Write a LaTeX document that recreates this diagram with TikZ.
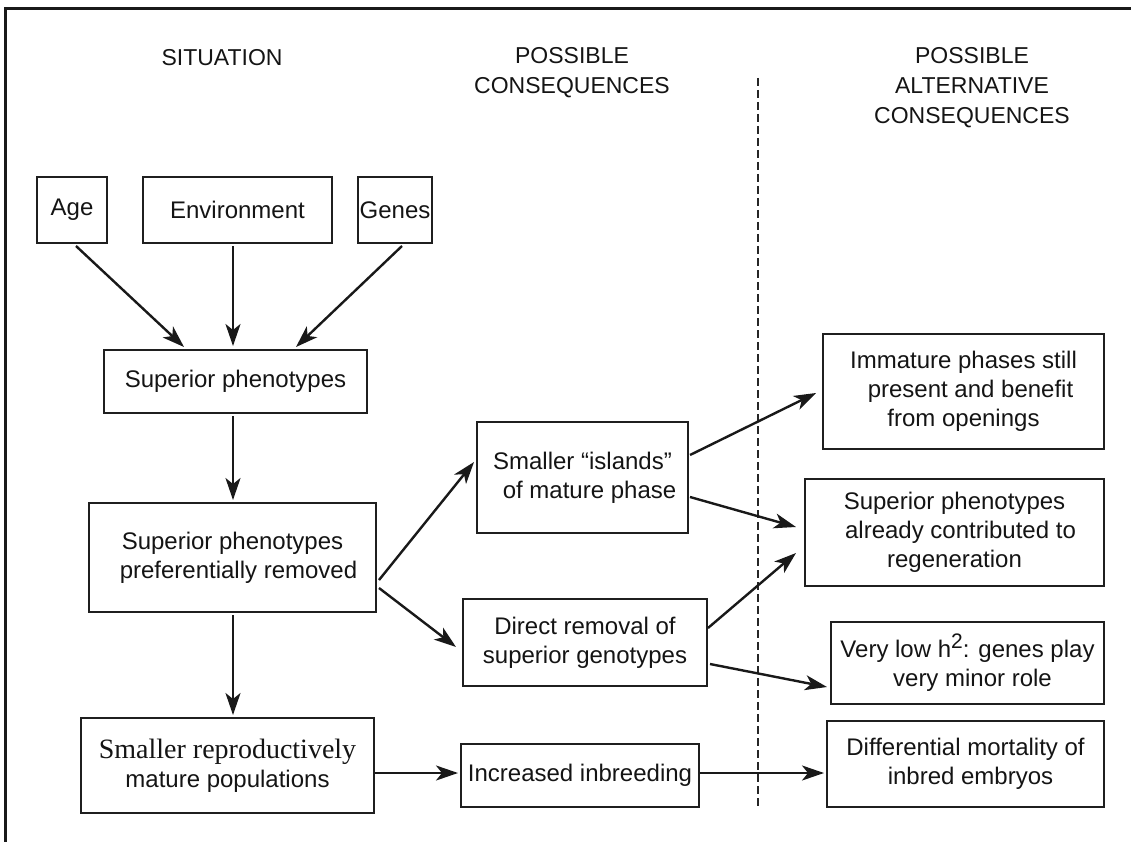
\documentclass[tikz,border=0pt]{standalone}
\usepackage{fontspec}
\setmainfont{Liberation Sans}
\newfontfamily\timesf{Liberation Serif}
\usetikzlibrary{arrows.meta}
\begin{document}
\begin{tikzpicture}[x=1pt,y=-1pt,
  box/.style={draw=black!88, line width=2pt, align=center, inner sep=0pt,
    font=\fontsize{24}{29}\selectfont, text=black!92},
  hdr/.style={align=center, inner sep=0pt, font=\fontsize{23}{30}\selectfont, text=black!92},
  arr/.style={line width=2.4pt, draw=black!90,
    -{Stealth[length=22pt,width=15pt,inset=6pt]}},
  frame/.style={line width=3pt, draw=black!90},
  divider/.style={line width=2.2pt, draw=black!85, dash pattern=on 8pt off 4pt}]
\useasboundingbox (0,0) rectangle (1131,842);
% frame
\coordinate (fbl) at (5,842);
\coordinate (ftl) at (5,9);
\coordinate (ftr) at (1131,9);
\draw[frame] (fbl) -- (ftl) -- (ftr);
% headers
\node[hdr] (h1) at (222,58) {SITUATION};
\node[hdr] (h2) at (572,73) {POSSIBLE\\CONSEQUENCES};
\node[hdr] (h3) at (972,88) {POSSIBLE\\ALTERNATIVE\\CONSEQUENCES};
% divider
\coordinate (dtop) at (758,78);
\coordinate (dbot) at (758,807);
\draw[divider] (dtop) -- (dbot);
% boxes
\node[box, minimum width=70, minimum height=66] (age) at (72,210) {Age};
\node[box, minimum width=189, minimum height=66] (env) at (237.5,210) {Environment};
\node[box, minimum width=74, minimum height=66] (genes) at (395,210) {Genes};
\node[box, minimum width=263, minimum height=63] (sp) at (235.5,381.5) {Superior phenotypes};
\node[box, minimum width=287, minimum height=109] (sppr) at (232.5,557.5) {Superior phenotypes\\\hspace*{12pt}preferentially removed};
\node[box, minimum width=293, minimum height=95] (ssr) at (227.5,765.5) {{\timesf\fontsize{28}{29}\selectfont Smaller reproductively}\\mature populations};
\node[box, minimum width=211, minimum height=111] (isl) at (582.5,477.5) {Smaller “islands”\\\hspace*{14pt}of mature phase};
\node[box, minimum width=244, minimum height=87] (dir) at (585,642.5) {Direct removal of\\superior genotypes};
\node[box, minimum width=238, minimum height=63] (inb) at (580,775.5) {Increased inbreeding};
\node[box, minimum width=281, minimum height=115] (imm) at (963.5,391.5) {Immature phases still\\\hspace*{14pt}present and benefit\\from openings};
\node[box, minimum width=299, minimum height=107] (alr) at (954.5,532.5) {Superior phenotypes\\\hspace*{12pt}already contributed to\\regeneration};
\node[box, minimum width=273, minimum height=82] (vlo) at (967.5,663) {Very low h\raisebox{9pt}{\fontsize{21}{21}\selectfont 2}: genes play\\\hspace*{10pt}very minor role};
\node[box, minimum width=277, minimum height=86] (dif) at (965.5,764) {Differential mortality of\\\hspace*{10pt}inbred embryos};
% connectors
\draw[arr] ([shift={(4,2)}]age.south) -- ([shift={(-51.5,-2)}]sp.north);
\draw[arr] ([shift={(-4.5,2)}]env.south) -- ([shift={(-2.5,-3)}]sp.north);
\draw[arr] ([shift={(7,2)}]genes.south) -- ([shift={(60.5,-2)}]sp.north);
\draw[arr] ([shift={(-2.5,2)}]sp.south) -- ([shift={(0.5,-2)}]sppr.north);
\draw[arr] ([shift={(0.5,2)}]sppr.south) -- ([shift={(5.5,-2)}]ssr.north);
\draw[arr] ([shift={(2,22.5)}]sppr.east) -- ([shift={(-2,-15.5)}]isl.west);
\draw[arr] ([shift={(2,30.5)}]sppr.east) -- ([shift={(-6,4.5)}]dir.west);
\draw[arr] ([shift={(1,-22.5)}]isl.east) -- ([shift={(-6,1.5)}]imm.west);
\draw[arr] ([shift={(1,19.5)}]isl.east) -- ([shift={(-8,-5.5)}]alr.west);
\draw[arr] ([shift={(0,-14.5)}]dir.east) -- ([shift={(-8,20.5)}]alr.west);
\draw[arr] ([shift={(2,21.5)}]dir.east) -- ([shift={(-3,24)}]vlo.west);
\draw[arr] ([shift={(0,7.5)}]ssr.east) -- ([shift={(-2,-2.5)}]inb.west);
\draw[arr] ([shift={(0,-2.5)}]inb.east) -- ([shift={(-2,9)}]dif.west);
\end{tikzpicture}
\end{document}
